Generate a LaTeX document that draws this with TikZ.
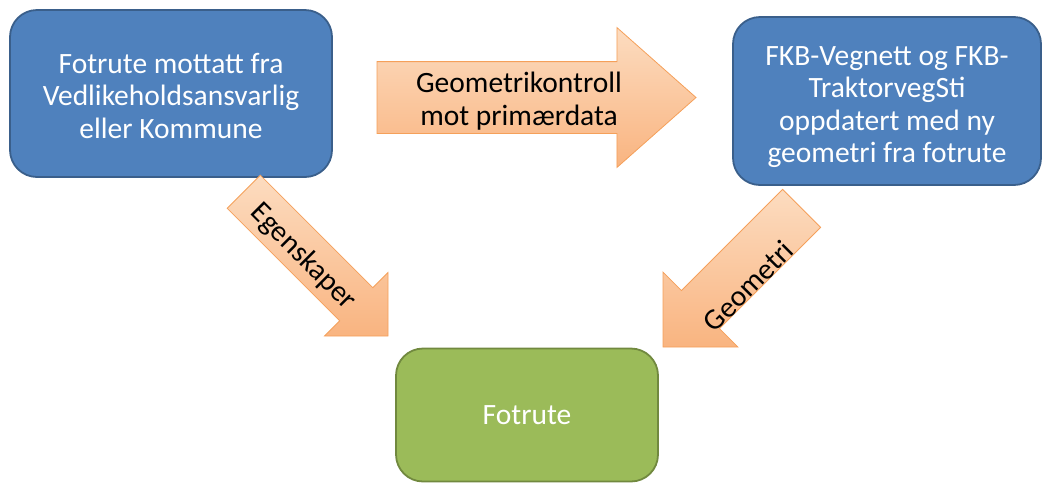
\documentclass[tikz,border=0pt]{standalone}
\usepackage{fontspec}
\setmainfont{Carlito}
\usetikzlibrary{shapes.arrows}
\definecolor{boxblue}{HTML}{4F81BD}
\definecolor{boxblueline}{HTML}{3A5F8B}
\definecolor{boxgreen}{HTML}{9BBB59}
\definecolor{boxgreenline}{HTML}{71893F}
\definecolor{arrowtop}{HTML}{FCDCC0}
\definecolor{arrowbot}{HTML}{F9B480}
\definecolor{arrowline}{HTML}{F5A05A}
\tikzset{
  x=1pt, y=-1pt,
  bigfont/.style={font=\fontsize{29.5}{32.5}\selectfont},
  bluebox/.style={rectangle, rounded corners=27pt, fill=boxblue, draw=boxblueline,
    line width=1.8pt, text=white, align=center, bigfont},
  greenbox/.style={rectangle, rounded corners=27pt, fill=boxgreen, draw=boxgreenline,
    line width=1.8pt, text=white, align=center, bigfont},
  blockarrow/.style={single arrow, draw=arrowline, line width=0.8pt,
    top color=arrowtop, bottom color=arrowbot, inner xsep=0pt, outer sep=0pt,
    minimum width=0pt},
  arrowlabel/.style={text=black, align=center, bigfont, inner sep=0pt}
}
\begin{document}
\begin{tikzpicture}
\useasboundingbox (0,0) rectangle (1043,483);

% boxes
\node[bluebox, minimum width=322pt, minimum height=167pt] (src) at (171,93.5)
  {\raisebox{-2pt}[\height][\depth]{\parbox{300pt}{\centering Fotrute mottatt fra\\Vedlikeholdsansvarlig\\eller Kommune}}};
\node[bluebox, minimum width=308pt, minimum height=168pt] (fkb) at (887,101)
  {\raisebox{-6pt}[\height][\depth]{\parbox{300pt}{\centering FKB-Vegnett og FKB-\\TraktorvegSti\\oppdatert med ny\\geometri fra fotrute}}};
\node[greenbox, minimum width=262pt, minimum height=133pt] (fot) at (527,415)
  {Fotrute};

% block arrows
\node[blockarrow, anchor=tail, minimum height=319pt, inner ysep=35.5pt,
  single arrow head extend=34pt, single arrow tip angle=83] (geo) at (377,97.5) {};
\node[arrowlabel] (geolab) at (519,101) {Geometrikontroll\\mot primærdata};

\node[blockarrow, anchor=tip, rotate=-45, minimum height=204pt, inner ysep=23pt,
  single arrow head extend=21.5pt, single arrow tip angle=90] (egn) at (388,336) {};
\node[arrowlabel, rotate=-45] (egnlab) at (303,257) {Egenskaper};

\node[blockarrow, anchor=tip, rotate=45, shape border rotate=180, minimum height=196pt,
  inner ysep=26.5pt, single arrow head extend=26pt, single arrow tip angle=90] (gmt) at (663,347) {};
\node[arrowlabel, rotate=45] (gmtlab) at (748,286) {Geometri};
\end{tikzpicture}
\end{document}
